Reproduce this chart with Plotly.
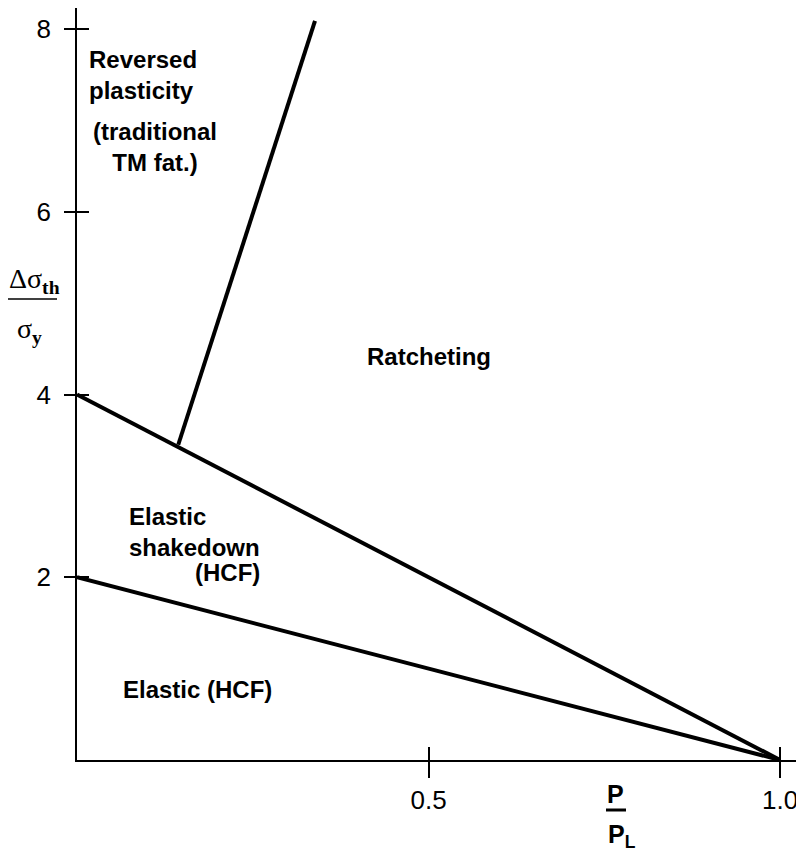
import plotly.graph_objects as go

# ---- data ----
elastic_limit_x = [0.0, 1.0]
elastic_limit_y = [2.0, 0.0]
shakedown_limit_x = [0.0, 1.0]
shakedown_limit_y = [4.0, 0.0]
reversed_limit_x = [0.144, 0.3385]
reversed_limit_y = [3.45, 8.09]

x_tick_vals = [0.5, 1.0]
x_tick_text = ["0.5", "1.0"]
y_tick_vals = [2, 4, 6, 8]
y_tick_text = ["2", "4", "6", "8"]

region_labels = ["Reversed<br>plasticity", "(traditional<br>TM fat.)", "Ratcheting",
                 "Elastic<br>shakedown", "(HCF)", "Elastic (HCF)"]

# page body has an 8px margin, so the figure is laid out 8px smaller/offset
OFF = 8
X_RANGE = [0, 1.034]
Y_RANGE = [0, 8.23]

fig = go.Figure()
line_style = dict(color="black", width=4)
for xs, ys in [(elastic_limit_x, elastic_limit_y),
               (shakedown_limit_x, shakedown_limit_y),
               (reversed_limit_x, reversed_limit_y)]:
    fig.add_trace(go.Scatter(x=xs, y=ys, mode="lines", line=line_style,
                             showlegend=False, hoverinfo="skip"))

fig.add_trace(go.Scatter(x=[0], y=[0], xaxis="x2", yaxis="y2", mode="markers",
                         marker=dict(opacity=0), showlegend=False, hoverinfo="skip"))

tick_font = dict(family="Liberation Sans, Arial, sans-serif", size=26, color="black")
fig.update_layout(
    width=804 - OFF, height=856 - OFF,
    margin=dict(l=77 - OFF, r=0, t=0, b=96),
    paper_bgcolor="white", plot_bgcolor="white",
    xaxis=dict(range=X_RANGE, showgrid=False, zeroline=False, showline=True,
               linecolor="black", linewidth=1.5, ticks="outside", ticklen=16,
               tickwidth=1.5, tickcolor="black", tickvals=x_tick_vals,
               ticktext=x_tick_text, tickfont=tick_font, ticklabelstandoff=0,
               ticklabeloverflow="allow"),
    yaxis=dict(range=Y_RANGE, showgrid=False, zeroline=False, showline=True,
               linecolor="black", linewidth=1.5, ticks="outside", ticklen=11,
               tickwidth=1.5, tickcolor="black", tickvals=y_tick_vals,
               ticktext=y_tick_text, tickfont=tick_font, ticklabelstandoff=8,
               ticklabeloverflow="allow"),
    xaxis2=dict(range=X_RANGE, overlaying="x", anchor="y2", side="bottom",
                showgrid=False, zeroline=False, showline=False, ticks="inside",
                ticklen=13, tickwidth=1.5, tickcolor="black", tickvals=x_tick_vals,
                showticklabels=False),
    yaxis2=dict(range=Y_RANGE, overlaying="y", anchor="x2", side="left",
                showgrid=False, zeroline=False, showline=False, ticks="inside",
                ticklen=12, tickwidth=1.5, tickcolor="black", tickvals=y_tick_vals,
                showticklabels=False),
)

bold = dict(family="Liberation Sans, Arial, sans-serif", size=24, color="black")

def lab(text, x, y, xanchor="left", align="left"):
    fig.add_annotation(text="<b>" + text + "</b>", x=x, y=y, xref="x", yref="y",
                       xanchor=xanchor, yanchor="middle", align=align,
                       showarrow=False, font=bold)

lab(region_labels[0], 0.0142, 7.50)
lab(region_labels[1], 0.111, 6.71, xanchor="center", align="center")
lab(region_labels[2], 0.50, 4.42, xanchor="center", align="center")
lab(region_labels[3], 0.0711, 2.50)
lab(region_labels[4], 0.263, 2.05, xanchor="right", align="right")
lab(region_labels[5], 0.0626, 0.77)

# paper-coordinate helpers from reference pixel positions
W = 804 - 77                 # plot width in px
H = 760 - OFF                # plot height in px (top margin 0)
px = lambda p: (p - 77) / W
py = lambda p: (760 - p) / H

# y-axis label: fraction Δσ_th / σ_y
serif = dict(family="Liberation Serif, Times New Roman, serif", size=28, color="black")
fig.add_annotation(text="Δσ<sub><b>th</b></sub>", x=px(34), y=py(281), xref="paper", yref="paper",
                   xanchor="center", yanchor="middle", showarrow=False, font=serif)
fig.add_shape(type="line", xref="paper", yref="paper", x0=px(7), x1=px(57), y0=py(299), y1=py(299),
              line=dict(color="black", width=1.5))
fig.add_annotation(text="σ<sub><b>y</b></sub>", x=px(29), y=py(330), xref="paper", yref="paper",
                   xanchor="center", yanchor="middle", showarrow=False, font=serif)

# x-axis label: fraction P / P_L
bold_big = dict(family="Liberation Sans, Arial, sans-serif", size=25, color="black")
fig.add_annotation(text="<b>P</b>", x=px(615), y=py(794), xref="paper", yref="paper",
                   xanchor="center", yanchor="middle", showarrow=False, font=bold_big)
fig.add_shape(type="line", xref="paper", yref="paper", x0=px(606), x1=px(626), y0=py(810), y1=py(810),
              line=dict(color="black", width=3))
fig.add_annotation(text="<b>P<sub>L</sub></b>", x=px(606), y=py(836), xref="paper", yref="paper",
                   xanchor="left", yanchor="middle", showarrow=False, font=bold_big)

fig.write_html("out.html")
